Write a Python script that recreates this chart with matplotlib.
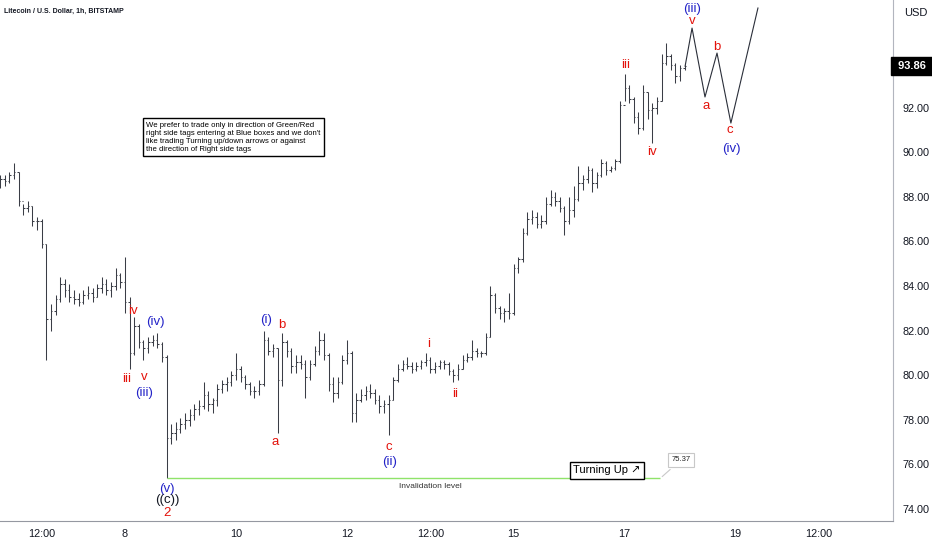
import matplotlib
matplotlib.use("Agg")
import matplotlib.pyplot as plt
import matplotlib.transforms as mtransforms

# 2h bars, hours counted from the 8th 00:00
t0 = -54
highs = [89.0, 89.0, 89.1, 89.5, 89.1, 87.7, 87.8, 87.6, 87.1, 87.0,
         85.9, 83.2, 83.6, 84.4, 84.3, 84.1, 83.8, 83.7, 83.8, 84.0,
         83.9, 84.1, 84.4, 84.3, 84.2, 84.8, 84.6, 85.3, 83.5, 82.6,
         82.3, 81.6, 81.7, 81.8, 81.9, 81.5, 80.9, 77.8, 77.9, 78.1,
         78.3, 78.5, 78.7, 78.9, 79.7, 79.3, 79.0, 79.6, 79.8, 79.9,
         80.2, 81.0, 80.4, 80.0, 79.7, 79.5, 79.8, 82.0, 81.7, 81.4,
         81.2, 81.9, 81.6, 81.2, 80.9, 80.9, 80.7, 80.7, 81.3, 82.0,
         81.9, 81.0, 79.9, 79.9, 80.9, 81.6, 81.1, 79.2, 79.4, 79.5,
         79.6, 79.4, 79.1, 78.9, 79.1, 79.9, 80.5, 80.7, 80.8, 80.6,
         80.6, 80.7, 81.0, 80.8, 80.6, 80.7, 80.7, 80.6, 80.3, 80.5,
         80.9, 81.0, 81.6, 81.2, 81.1, 81.9, 84.0, 83.7, 83.1, 83.0,
         83.7, 85.0, 85.3, 86.6, 87.3, 87.4, 87.3, 87.2, 88.0, 88.3,
         88.2, 88.0, 87.6, 88.0, 88.5, 89.4, 89.0, 89.4, 89.3, 89.1,
         89.7, 89.6, 89.4, 89.7, 92.3, 93.5, 93.0, 92.5, 91.8, 93.0,
         92.7, 92.2, 92.5, 94.4, 94.9, 94.4, 94.0, 93.9, 93.9]
lows = [88.4, 88.5, 88.6, 88.8, 87.6, 87.2, 87.3, 86.7, 86.5, 85.7,
        80.7, 82.0, 82.7, 83.3, 83.5, 83.3, 83.2, 83.1, 83.2, 83.4,
        83.3, 83.5, 83.7, 83.6, 83.5, 83.8, 83.9, 82.8, 80.3, 80.9,
        81.2, 80.7, 81.0, 81.3, 81.2, 80.6, 75.37, 76.9, 77.1, 77.4,
        77.6, 77.7, 78.0, 78.2, 78.5, 78.4, 78.3, 78.6, 79.2, 79.3,
        79.5, 79.8, 79.7, 79.4, 79.1, 79.0, 79.1, 79.5, 80.9, 80.8,
        77.4, 79.5, 80.8, 80.1, 80.1, 80.3, 79.0, 79.8, 80.4, 80.9,
        80.7, 79.3, 78.8, 79.0, 79.6, 80.5, 77.9, 77.9, 78.8, 78.9,
        79.0, 78.7, 78.3, 78.3, 77.3, 78.9, 79.7, 80.2, 80.3, 80.1,
        80.2, 80.3, 80.4, 80.1, 80.1, 80.3, 80.3, 80.0, 79.7, 79.8,
        80.3, 80.6, 80.7, 80.8, 80.8, 80.9, 81.7, 82.8, 82.5, 82.4,
        82.5, 82.7, 84.6, 85.1, 86.3, 86.8, 86.6, 86.6, 86.8, 87.6,
        87.6, 87.3, 86.3, 86.8, 87.1, 87.8, 88.3, 88.6, 88.2, 88.4,
        88.9, 89.0, 89.1, 89.2, 89.5, 92.3, 92.2, 91.3, 90.8, 91.0,
        91.5, 90.4, 91.7, 92.3, 93.9, 93.7, 93.1, 93.2, 93.7]
closes = [88.8, 88.7, 89.0, 89.1, 87.8, 87.5, 87.6, 86.9, 86.9, 85.9,
          82.5, 82.9, 83.4, 84.1, 83.8, 83.5, 83.4, 83.3, 83.6, 83.7,
          83.5, 83.9, 84.1, 83.8, 84.0, 84.5, 84.2, 83.3, 81.0, 82.2,
          81.5, 81.2, 81.5, 81.6, 81.4, 80.8, 77.2, 77.4, 77.6, 77.8,
          78.0, 78.2, 78.5, 78.6, 79.1, 78.7, 78.9, 79.4, 79.6, 79.7,
          80.0, 80.3, 79.9, 79.6, 79.3, 79.3, 79.6, 81.6, 81.1, 81.2,
          79.8, 81.5, 81.1, 80.4, 80.6, 80.5, 79.9, 80.5, 81.1, 81.6,
          80.9, 79.6, 79.2, 79.7, 80.7, 81.0, 78.3, 78.9, 79.1, 79.3,
          79.2, 78.9, 78.6, 78.7, 78.9, 79.8, 80.3, 80.5, 80.4, 80.3,
          80.4, 80.6, 80.7, 80.3, 80.4, 80.6, 80.5, 80.2, 80.0, 80.3,
          80.7, 80.8, 81.1, 81.0, 81.0, 81.7, 83.6, 83.0, 82.8, 82.9,
          82.8, 84.8, 85.2, 86.4, 87.0, 87.1, 86.8, 86.9, 87.7, 88.0,
          87.8, 87.5, 86.9, 87.4, 87.9, 88.6, 88.8, 89.2, 88.6, 89.0,
          89.5, 89.2, 89.3, 89.6, 92.1, 92.9, 92.4, 91.6, 91.1, 92.7,
          91.9, 92.0, 92.3, 94.0, 94.3, 93.9, 93.4, 93.8, 93.86]
first_open = 88.6
last_price = 93.86

# projected path (iii)-v, a, b, c (iv) and beyond
proj_t = [242.2, 245.2, 250.8, 256.0, 262.0, 273.7]
proj_p = [93.86, 95.57, 92.48, 94.45, 91.31, 96.47]

invalid_level = 75.37
invalid_t = [18.2, 231.4]

# wave labels: (hour, price, text, colour)
RED, BLUE, BLACK = "#e3120b", "#2323c8", "#131722"
wave_labels = [
    (0.9, 79.83, "iii", RED), (3.5, 82.88, "iv", RED), (8.2, 79.92, "v", RED),
    (8.2, 79.2, "(iii)", BLUE), (13.0, 82.39, "(iv)", BLUE),
    (18.2, 74.9, "(v)", BLUE), (18.2, 74.4, "((c))", BLACK), (18.2, 73.8, "2", RED),
    (61.0, 82.47, "(i)", BLUE), (67.9, 82.25, "b", RED), (64.9, 77.0, "a", RED),
    (114.2, 76.78, "c", RED), (114.2, 76.1, "(ii)", BLUE),
    (131.5, 81.4, "i", RED), (142.7, 79.16, "ii", RED),
    (216.6, 93.91, "iii", RED), (227.9, 90.0, "iv", RED),
    (245.2, 96.42, "(iii)", BLUE), (245.2, 95.88, "v", RED),
    (251.2, 92.07, "a", RED), (256.0, 94.72, "b", RED),
    (261.6, 91.0, "c", RED), (262.1, 90.14, "(iv)", BLUE),
]

xtick_pos = [-36, 0, 48, 96, 132, 168, 216, 264, 300]
xtick_lab = ["12:00", "8", "10", "12", "12:00", "15", "17", "19", "12:00"]
ytick_pos = [74, 76, 78, 80, 82, 84, 86, 88, 90, 92]

NARROW = ["Liberation Sans Narrow", "Liberation Sans", "DejaVu Sans"]
plt.rcParams["font.family"] = ["Liberation Sans", "DejaVu Sans"]

fig = plt.figure(figsize=(9.32, 5.5), dpi=100)
ax = fig.add_axes([0, 0.0527, 893 / 932, 0.9473])

times = [t0 + 2 * i for i in range(len(closes))]
opens = [first_open] + closes[:-1]
bar_col = "#3a3d46"
ax.vlines(times, lows, highs, color=bar_col, lw=0.75)
ax.hlines(opens, [t - 0.6 for t in times], times, color=bar_col, lw=0.75)
ax.hlines(closes, times, [t + 0.6 for t in times], color=bar_col, lw=0.75)

ax.plot(proj_t, proj_p, color="#2a2e39", lw=0.8)
ax.hlines(invalid_level, invalid_t[0], invalid_t[1], color="#8fe36a", lw=1.0)
ax.text(131.9, 75.03, "Invalidation level", fontsize=6, color="#333333",
        ha="center", va="center", family=NARROW)

for t, p, s, c in wave_labels:
    ax.text(t, p, s, color=c, fontsize=9.5, ha="center", va="center")

# text box
ax.text(0.164, 0.766,
        "We prefer to trade only in direction of Green/Red\n"
        "right side tags entering at Blue boxes and we don't\n"
        "like trading Turning up/down arrows or against\n"
        "the direction of Right side tags",
        transform=ax.transAxes, fontsize=5.6, color="#000000", ha="left", va="top",
        linespacing=1.2, family=NARROW,
        bbox=dict(boxstyle="square,pad=0.45", fc="white", ec="black", lw=1.0))

ax.text(208.4, 75.73, "Turning Up \u2197", fontsize=8, color="black",
        ha="center", va="center", family=NARROW,
        bbox=dict(boxstyle="square,pad=0.3", fc="white", ec="black", lw=1.0))
ax.annotate("75.37", xy=(231.4, invalid_level), xytext=(240.4, 76.2),
            fontsize=5.5, color="#222222", ha="center", va="center",
            bbox=dict(boxstyle="square,pad=0.5", fc="white", ec="#c8c8c8", lw=0.8),
            arrowprops=dict(arrowstyle="-", color="#c8c8c8", lw=0.8))

ax.set_xlim(-54.05, 332.1)
ax.set_ylim(73.46, 96.83)
for s in ["top", "left"]:
    ax.spines[s].set_visible(False)
ax.spines["right"].set_color("#b2b5be")
ax.spines["bottom"].set_color("#9598a1")
ax.yaxis.tick_right()
ax.set_yticks(ytick_pos)
ax.set_yticklabels(["%.2f" % v for v in ytick_pos])
ax.set_xticks(xtick_pos)
ax.set_xticklabels(xtick_lab)
ax.tick_params(axis="y", length=0, pad=7, labelsize=7.8, labelcolor="#131722")
ax.tick_params(axis="x", length=0, pad=6, labelsize=7.8, labelcolor="#131722")

yx = mtransforms.blended_transform_factory(ax.transAxes, ax.transData)
ax.text(1.0025, last_price, " %.2f  " % last_price, transform=yx, fontsize=8,
        color="white", fontweight="bold", ha="left", va="center",
        bbox=dict(boxstyle="square,pad=0.35", fc="black", ec="black"))
ax.text(1.013, 0.975, "USD", transform=ax.transAxes, fontsize=8,
        color="#131722", ha="left", va="center")
ax.text(0.005, 0.978, "Litecoin / U.S. Dollar, 1h, BITSTAMP", transform=ax.transAxes,
        fontsize=5, color="#131722", fontweight="bold", ha="left", va="center",
        family=NARROW)

fig.savefig("out.png", dpi=100)
